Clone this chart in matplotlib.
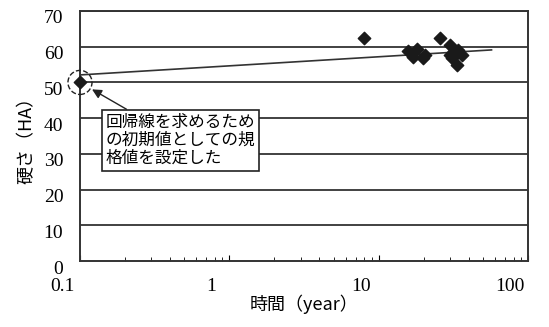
import numpy as np
import matplotlib.pyplot as plt
from matplotlib.transforms import ScaledTranslation

plt.rcParams["font.family"] = ["Liberation Serif", "Noto Sans CJK JP"]

# measured hardness values (year, HA)
time_yr = [8.0, 15.7, 18.1, 17.0, 19.8, 20.5, 25.8, 30.0, 34.0, 36.2, 30.0, 33.5, 31.0]
hardness = [62.4, 58.8, 59.4, 57.1, 56.8, 57.7, 62.4, 60.5, 59.1, 57.7, 57.7, 54.9, 56.8]

# initial value (spec) used for the regression
spec_x = [0.1]
spec_y = [50]

# regression line end points
fit_x = [0.1, 57]
fit_y = [52.1, 59.1]

xticks = [0.1, 1, 10, 100]
xticklabels = ["0.1", "1", "10", "100"]
yticks = [0, 10, 20, 30, 40, 50, 60, 70]

note = "回帰線を求めるため\nの初期値としての規\n格値を設定した"

fig = plt.figure(figsize=(5.49, 3.27), dpi=100)
ax = fig.add_axes([0.1457, 0.2018, 0.816, 0.7646])

ax.set_xscale("log")
ax.set_xlim(0.1, 100)
ax.set_ylim(0, 70)

for y in yticks[1:]:
    ax.axhline(y, color="#333333", lw=1.3, zorder=1)

ax.plot(fit_x, fit_y, color="#333333", lw=1.2, zorder=2)
ax.scatter(time_yr, hardness, marker="D", s=40, color="#1a1a1a", zorder=3)
ax.scatter(spec_x, spec_y, marker="D", s=40, color="#1a1a1a", zorder=3, clip_on=False)
ax.scatter(spec_x, spec_y, marker="o", s=300, facecolors="none", edgecolors="#222222",
           linestyles="--", linewidths=1.0, zorder=3, clip_on=False)

ax.annotate(note, xy=(0.1, 50), xytext=(0.057, 0.59), textcoords="axes fraction",
            xycoords="data", ha="left", va="top", fontsize=12, linespacing=1.1,
            family=["Noto Sans CJK JP"],
            bbox=dict(boxstyle="square,pad=0.22", fc="white", ec="#222222", lw=1.2),
            arrowprops=dict(arrowstyle="-|>", color="#222222", lw=1.0,
                            shrinkA=0, shrinkB=10, mutation_scale=14),
            zorder=5)

ax.set_xticks(xticks)
ax.set_xticklabels(xticklabels)
ax.set_yticks(yticks)
ax.tick_params(axis="x", which="major", direction="in", length=4, labelsize=14, pad=12)
ax.tick_params(axis="x", which="minor", direction="in", length=3)
ax.tick_params(axis="y", length=0, labelsize=14, pad=12)

# tick labels in the scan sit a little off their ticks
for lab in ax.get_xticklabels():
    lab.set_transform(lab.get_transform() + ScaledTranslation(-0.18, 0, fig.dpi_scale_trans))
for lab in ax.get_yticklabels():
    lab.set_transform(lab.get_transform() + ScaledTranslation(0, -0.06, fig.dpi_scale_trans))

for s in ax.spines.values():
    s.set_color("#333333")
    s.set_linewidth(1.4)

ax.set_xlabel("時間（year）", fontsize=13, family=["Noto Sans CJK JP"], labelpad=0)
ax.set_ylabel("硬さ（HA）", fontsize=13, family=["Noto Sans CJK JP"], labelpad=6)

fig.savefig("out.png", dpi=100)
